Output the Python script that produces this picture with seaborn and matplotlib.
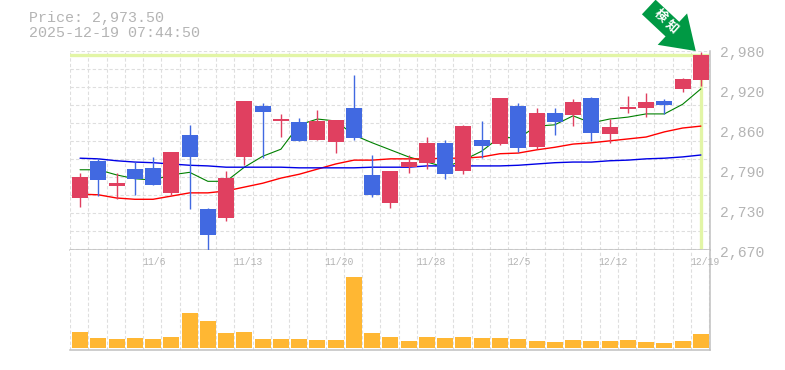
import matplotlib
matplotlib.use("Agg")
import matplotlib.pyplot as plt
from matplotlib.patches import FancyArrow
from matplotlib.transforms import IdentityTransform, blended_transform_factory
import numpy as np
import pandas as pd
import seaborn as sns

# daily prices
opens = [2751, 2809, 2770, 2796, 2798, 2759, 2849, 2734, 2720, 2815, 2894, 2871, 2869, 2841, 2838, 2891, 2787, 2743,
         2799, 2806, 2837, 2793, 2841, 2835, 2894, 2830, 2883, 2880, 2907, 2851, 2890, 2891, 2902, 2921, 2935]
highs = [2790, 2813, 2790, 2807, 2815, 2823, 2865, 2735, 2793, 2902, 2899, 2882, 2876, 2888, 2872, 2943, 2818, 2793,
         2818, 2846, 2841, 2865, 2871, 2907, 2899, 2891, 2891, 2905, 2908, 2874, 2910, 2915, 2905, 2938, 2978]
lows = [2737, 2754, 2749, 2756, 2771, 2756, 2734, 2670, 2715, 2802, 2813, 2846, 2840, 2841, 2821, 2841, 2753, 2735,
        2790, 2796, 2781, 2788, 2813, 2834, 2823, 2827, 2849, 2863, 2840, 2837, 2883, 2877, 2882, 2916, 2925]
closes = [2784, 2779, 2774, 2781, 2771, 2823, 2815, 2693, 2782, 2902, 2885, 2874, 2840, 2871, 2872, 2844, 2756, 2793,
          2807, 2837, 2788, 2863, 2832, 2907, 2829, 2883, 2869, 2901, 2852, 2862, 2893, 2901, 2896, 2936, 2973.5]
ma_short = [2795, 2795, 2787, 2781, 2779, 2787, 2791, 2777, 2777, 2799, 2816, 2827, 2865, 2874, 2871, 2849, 2837, 2826,
            2815, 2807, 2799, 2810, 2824, 2846, 2844, 2863, 2865, 2879, 2868, 2874, 2877, 2882, 2882, 2897, 2921]
ma_mid = [2757, 2756, 2751, 2749, 2749, 2754, 2759, 2759, 2762, 2768, 2774, 2782, 2788, 2796, 2804, 2810, 2810, 2812,
          2812, 2812, 2813, 2813, 2815, 2820, 2821, 2826, 2830, 2835, 2837, 2840, 2843, 2846, 2854, 2860, 2863]
ma_long = [2813, 2812, 2809, 2807, 2806, 2804, 2802, 2801, 2799, 2799, 2799, 2799, 2798, 2798, 2798, 2798, 2799, 2799,
           2799, 2801, 2801, 2801, 2801, 2801, 2802, 2804, 2806, 2807, 2807, 2809, 2810, 2812, 2813, 2815, 2818]
volumes = [16, 10, 9, 10, 9, 11, 35, 27, 15, 16, 9, 9, 9, 8, 8, 71, 15, 11, 7, 11, 10, 11, 10, 10, 9, 7, 6, 8, 7, 7, 8,
           6, 5, 7, 14]
date_pos = [4, 9, 14, 19, 24, 29, 34]
date_labels = ["11/6", "11/13", "11/20", "11/28", "12/5", "12/12", "12/19"]
price_ticks = [2980, 2918, 2855, 2793, 2730, 2668]
price_labels = ["2,980", "2,920", "2,860", "2,790", "2,730", "2,670"]

UP = "#e04060"
DOWN = "#4169e1"
GRID = "#dedede"
AXIS = "#c0c0c0"
TEXT = "#b4b4b4"
LIME = "#e2f5a6"
MONO = "Liberation Mono"
W, H = 785, 370

sns.set_theme(style="white")
df = pd.DataFrame({"i": range(len(opens)), "open": opens, "high": highs, "low": lows, "close": closes,
                   "short": ma_short, "mid": ma_mid, "long": ma_long, "volume": volumes})

fig = plt.figure(figsize=(W / 100, H / 100), dpi=100)
ax = fig.add_axes([70 / W, 1 - 250 / H, 640 / W, 199 / H])
ax_vol = fig.add_axes([70 / W, 1 - 350 / H, 640 / W, 100 / H])

xlim = (-0.55, 34.5)
edges = np.arange(0, 36) + xlim[0]

ax.set_ylim(2670, 2980)
ax.set_yticks(2980 - np.arange(12) * 18 * 310 / 199)
ax.grid(True, axis="y", color=GRID, linestyle=(0, (3, 2)), linewidth=0.8)

# last price marker
ax.axhline(closes[-1] + 1, color=LIME, linewidth=2.4, zorder=1)
ax.vlines(df["i"].iloc[-1], 2672, closes[-1], color=LIME, linewidth=2.4, zorder=1)

# candles
colors = [UP if c >= o else DOWN for o, c in zip(opens, closes)]
ax.vlines(df["i"], df["low"], df["high"], colors=colors, linewidth=1.0, zorder=3)
ax.bar(df["i"], (df["close"] - df["open"]).abs(), bottom=df[["open", "close"]].min(axis=1),
       width=16 / 18.26, color=colors, linewidth=0, zorder=4)

# moving averages, under the candles
sns.lineplot(data=df, x="i", y="short", ax=ax, color="#008000", linewidth=0.8, zorder=2)
sns.lineplot(data=df, x="i", y="mid", ax=ax, color="#ff0000", linewidth=1.0, zorder=2)
sns.lineplot(data=df, x="i", y="long", ax=ax, color="#0000e6", linewidth=1.0, zorder=2)

sns.barplot(data=df, x="i", y="volume", ax=ax_vol, color="#ffb733", width=16 / 18.26, saturation=1, native_scale=True,
            linewidth=0, zorder=3)
ax_vol.set_ylim(-2, 98)

for a in (ax, ax_vol):
    a.set_xlim(xlim)
    a.set_xticks(edges)
    a.set_xlabel("")
    a.set_ylabel("")
    a.tick_params(length=0, labelbottom=False, labelleft=False)
    a.grid(True, axis="x", color=GRID, linestyle=(0, (3, 2)), linewidth=0.8)
    a.set_axisbelow(True)
    a.spines["top"].set_visible(False)
    a.spines["left"].set_visible(False)
    a.spines["right"].set_color(AXIS)
    a.spines["bottom"].set_color(AXIS)
    a.spines["right"].set_linewidth(1.1)
    a.spines["bottom"].set_linewidth(1.1)

# labels
for p, lab in zip(date_pos, date_labels):
    ax_vol.annotate(lab, (p + xlim[0], 1), xycoords=ax_vol.get_xaxis_transform(), xytext=(-1, -12),
                    textcoords="offset pixels", ha="left", va="center", color=TEXT, family=MONO, fontsize=7,
                    annotation_clip=False)
yaxis_tf = blended_transform_factory(ax.transAxes, ax.transData)
for v, lab in zip(price_ticks, price_labels):
    ax.annotate(lab, (1, v), xycoords=yaxis_tf, xytext=(10, -2), textcoords="offset pixels", ha="left", va="center",
                color=TEXT, family=MONO, fontsize=10.6, annotation_clip=False)

fig.text(29 / W, 1 - 18 / H, "Price: 2,973.50", color=TEXT, family=MONO, fontsize=10.8, va="center")
fig.text(29 / W, 1 - 33 / H, "2025-12-19 07:44:50", color=TEXT, family=MONO, fontsize=10.8, va="center")

# signal arrow on the last candle, sized in pixels from its tip
tip_x, tip_y = ax.transData.transform((34 - 0.28, 2980))
arrow = FancyArrow(tip_x - 47, tip_y + 44, 47, -44, width=20, head_width=43, head_length=32,
                   length_includes_head=True, color="#009944", linewidth=0, transform=IdentityTransform(), zorder=9)
fig.add_artist(arrow)
fig.text(660 / W, 1 - 16 / H, "検", color="white", family=["Noto Sans CJK JP", "DejaVu Sans"], fontsize=9,
         fontweight="bold", rotation=-42, ha="center", va="center", zorder=10)
fig.text(672 / W, 1 - 27 / H, "知", color="white", family=["Noto Sans CJK JP", "DejaVu Sans"], fontsize=9,
         fontweight="bold", rotation=-42, ha="center", va="center", zorder=10)

fig.savefig("out.png", dpi=100)
